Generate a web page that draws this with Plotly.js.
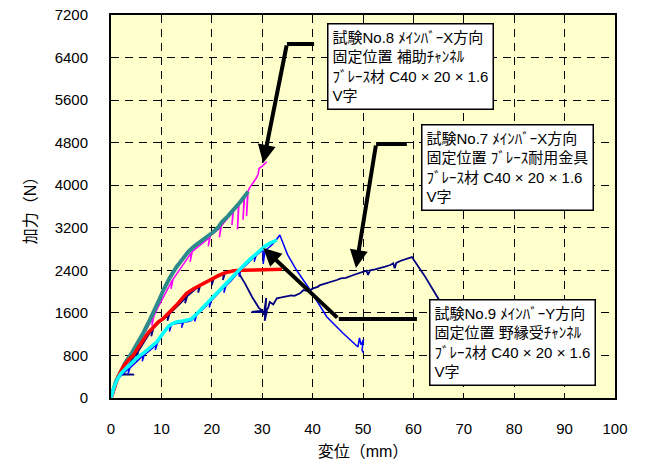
<!DOCTYPE html>
<html>
<head>
<meta charset="utf-8">
<script src="https://cdn.plot.ly/plotly-3.0.1.min.js"></script>
<style>html,body{margin:0;padding:0;background:#fff;}#chart{width:649px;height:470px;}</style>
</head>
<body>
<div id="chart"></div>
<script>
// ---- Data (displacement mm, load N) ----
// No.8 raw (magenta)
const x8raw = [0, 0.4, 1.0, 1.6, 2.4, 3.4, 4.6, 5.0, 4.7, 5.1, 5.9, 7.0, 8.0, 8.4, 8.1, 8.5, 9.4, 10.6, 11.8, 12.2, 11.9, 12.3, 13.4, 14.6, 15.6, 16.0, 15.7, 16.1, 17.0, 18.2, 19.2, 19.6, 19.3, 19.7, 20.6, 21.4, 21.8, 21.5, 21.9, 22.6, 23.6, 24.2, 24.0, 24.3, 24.8, 25.3, 25.1, 25.4, 25.9, 26.4, 26.2, 26.5, 26.9, 27.1, 26.9, 27.2, 27.5, 28.2, 28.8, 29.2, 29.4, 30.0, 30.6, 30.9];
const y8raw = [0, 160, 310, 430, 600, 760, 920, 990, 860, 1000, 1090, 1280, 1450, 1530, 1360, 1540, 1720, 1930, 2140, 2220, 2050, 2230, 2380, 2550, 2680, 2740, 2560, 2750, 2820, 2910, 2990, 3040, 2850, 3050, 3120, 3180, 3230, 3020, 3240, 3320, 3430, 3520, 3250, 3530, 3600, 3660, 3170, 3670, 3720, 3780, 3350, 3790, 3840, 3880, 3420, 3890, 3950, 4036, 4130, 4211, 4318, 4360, 4412, 4440];
// No.8 smoothed (teal)
const x8s = [0, 0.5, 1.0, 1.8, 2.8, 4.2, 5.4, 6.4, 7.4, 8.4, 9.4, 10.4, 11.6, 13.0, 14.2, 15.3, 16.5, 17.7, 19.0, 20.3, 21.2, 22.0, 23.2, 24.3, 25.6, 27.2];
const y8s = [0, 180, 320, 460, 660, 860, 1040, 1222, 1410, 1598, 1810, 2030, 2250, 2463, 2620, 2745, 2850, 2933, 3030, 3121, 3200, 3309, 3420, 3534, 3680, 3880];
// No.7 raw (navy)
const x7raw = [0, 0.8, 1.5, 1.9, 4.6, 2.3, 3.0, 4.0, 4.9, 5.2, 5.0, 5.4, 6.4, 7.4, 8.2, 8.0, 8.4, 9.4, 10.4, 11.4, 11.2, 11.6, 13.0, 14.0, 14.9, 14.7, 15.1, 16.3, 17.5, 17.3, 17.7, 19.0, 20.2, 20.0, 20.4, 21.4, 22.4, 22.2, 22.6, 23.6, 24.5, 25.4, 26.6, 28.0, 29.3, 30.0, 27.9, 30.9, 30.5, 30.8, 30.3, 31.2, 31.5, 32.2, 32.9, 33.8, 34.9, 35.8, 36.4, 37.5, 38.2, 39.2, 40.1, 41.0, 41.5, 42.5, 43.4, 44.8, 45.6, 46.6, 48.1, 49.0, 49.8, 50.7, 51.0, 51.4, 52.4, 53.4, 54.4, 55.4, 56.0, 56.3, 56.6, 57.5, 58.6, 59.7, 62.2, 64.9, 68.0];
const y7raw = [0, 230, 400, 445, 440, 450, 560, 700, 820, 860, 700, 880, 1030, 1180, 1300, 1160, 1310, 1410, 1480, 1570, 1450, 1580, 1700, 1800, 1900, 1780, 1910, 2010, 2110, 1980, 2120, 2190, 2240, 2120, 2250, 2290, 2330, 2220, 2340, 2380, 2400, 2340, 2150, 1900, 1700, 1640, 1617, 1617, 1450, 1880, 1560, 1700, 1805, 1760, 1874, 1890, 1905, 1930, 1920, 1968, 2030, 2010, 2060, 2090, 2124, 2150, 2180, 2218, 2250, 2260, 2312, 2340, 2360, 2393, 2312, 2400, 2420, 2438, 2470, 2500, 2530, 2438, 2540, 2580, 2610, 2650, 2300, 1874, 1300];
// No.7 smoothed (red)
const x7s = [0, 0.8, 1.5, 2.5, 3.5, 4.4, 5.4, 6.4, 7.4, 8.4, 9.4, 10.4, 11.6, 13.0, 14.0, 15.0, 16.3, 17.7, 19.0, 20.3, 21.3, 22.3, 23.3, 24.3, 26.2, 28.0, 30.0, 32.0, 33.9];
const y7s = [0, 250, 420, 600, 720, 800, 960, 1090, 1230, 1341, 1430, 1498, 1610, 1748, 1860, 1968, 2050, 2124, 2190, 2250, 2300, 2344, 2375, 2393, 2400, 2405, 2410, 2415, 2420];
// No.9 raw (blue)
const x9raw = [0, 0.6, 1.2, 1.8, 2.8, 3.6, 3.4, 3.8, 4.6, 5.6, 6.4, 6.2, 6.6, 7.4, 8.4, 9.0, 8.8, 9.2, 10.0, 11.0, 11.8, 11.6, 12.0, 13.0, 14.2, 14.0, 14.4, 15.4, 16.0, 16.8, 16.6, 17.0, 17.9, 18.9, 19.7, 19.5, 19.9, 20.8, 21.8, 22.6, 22.4, 22.8, 23.8, 24.8, 25.6, 25.4, 25.8, 26.8, 27.8, 28.6, 28.4, 28.8, 29.7, 30.2, 30.2, 30.6, 31.2, 31.9, 32.7, 33.5, 35.0, 36.8, 39.5, 42.8, 46.0, 49.0, 49.3, 49.6, 50.1, 49.8, 50.1];
const y9raw = [0, 190, 330, 400, 490, 560, 460, 570, 640, 740, 800, 690, 810, 870, 950, 1020, 900, 1030, 1160, 1280, 1370, 1250, 1380, 1400, 1420, 1320, 1430, 1440, 1460, 1540, 1440, 1560, 1640, 1730, 1820, 1700, 1830, 1920, 2010, 2100, 1980, 2110, 2200, 2310, 2400, 2280, 2410, 2500, 2590, 2670, 2560, 2680, 2750, 2760, 2520, 2780, 2820, 2876, 2960, 3064, 2700, 2406, 2030, 1528, 1222, 960, 1128, 1000, 1100, 900, 846];
// No.9 smoothed (cyan)
const x9s = [0, 0.6, 1.2, 1.8, 2.6, 3.4, 4.4, 5.4, 6.4, 7.2, 8.2, 9.0, 9.8, 10.6, 11.4, 12.2, 13.0, 14.3, 15.4, 15.9, 16.9, 17.8, 18.8, 19.7, 20.7, 21.6, 22.6, 23.6, 24.6, 25.6, 26.6, 27.6, 28.6, 29.6, 30.5, 31.5, 32.9];
const y9s = [0, 200, 340, 440, 520, 600, 700, 780, 840, 900, 970, 1045, 1150, 1250, 1350, 1400, 1430, 1446, 1462, 1480, 1570, 1660, 1755, 1845, 1940, 2030, 2130, 2230, 2330, 2430, 2520, 2610, 2700, 2780, 2850, 2910, 2970];

// ---- Axis ticks ----
const xTicks = [0, 10, 20, 30, 40, 50, 60, 70, 80, 90, 100];
const yTicks = [0, 800, 1600, 2400, 3200, 4000, 4800, 5600, 6400, 7200];

// ---- Annotation texts ----
const note8 = "試験No.8 ﾒｲﾝﾊﾞｰX方向<br>固定位置 補助ﾁｬﾝﾈﾙ<br>ﾌﾞﾚｰｽ材 C40 × 20 × 1.6<br>V字";
const note7 = "試験No.7 ﾒｲﾝﾊﾞｰX方向<br>固定位置 ﾌﾞﾚｰｽ耐用金具<br>ﾌﾞﾚｰｽ材 C40 × 20 × 1.6<br>V字";
const note9 = "試験No.9 ﾒｲﾝﾊﾞｰY方向<br>固定位置 野縁受ﾁｬﾝﾈﾙ<br>ﾌﾞﾚｰｽ材 C40 × 20 × 1.6<br>V字";

const FONT = "Liberation Sans, Arial, Noto Sans CJK JP, sans-serif";
const JFONT = "Liberation Sans, Noto Sans CJK JP, sans-serif";

const traces = [
  {x: x8raw, y: y8raw, mode: 'lines', line: {color: '#FF00FF', width: 1.6}, hoverinfo: 'skip'},
  {x: x7raw, y: y7raw, mode: 'lines', line: {color: '#000080', width: 1.8}, hoverinfo: 'skip'},
  {x: x9raw, y: y9raw, mode: 'lines', line: {color: '#0000FF', width: 1.5}, hoverinfo: 'skip'},
  {x: x8s, y: y8s, mode: 'lines', line: {color: '#2E8B8B', width: 4}, hoverinfo: 'skip'},
  {x: x7s, y: y7s, mode: 'lines', line: {color: '#FF0000', width: 3.5}, hoverinfo: 'skip'},
  {x: x9s, y: y9s, mode: 'lines', line: {color: '#00FFFF', width: 3.5}, hoverinfo: 'skip'}
];

function box(x, y, text) {
  return {x: x, y: y, xref: 'x', yref: 'y', xanchor: 'left', yanchor: 'top', text: text,
    showarrow: false, align: 'left', bgcolor: '#FFFFFF', bordercolor: '#000000', borderwidth: 1.5,
    borderpad: 4, font: {family: JFONT, size: 15, color: '#000'}};
}
function arrow(xt, yt, xs, ys) {
  return {x: xt, y: yt, ax: xs, ay: ys, xref: 'x', yref: 'y', axref: 'x', ayref: 'y', text: '',
    showarrow: true, arrowhead: 2, arrowsize: 0.9, arrowwidth: 4, arrowcolor: '#000', standoff: 0, startstandoff: 0};
}

const layout = {
  width: 649, height: 470,
  margin: {l: 111, r: 34, t: 15, b: 72},
  paper_bgcolor: '#FFFFFF', plot_bgcolor: '#FFFFCC',
  showlegend: false,
  font: {family: FONT, size: 15, color: '#000'},
  xaxis: {range: [0, 100], tickvals: xTicks, ticktext: xTicks.map(String), showgrid: true,
    gridcolor: '#000', griddash: '8px,6px', gridwidth: 1, zeroline: false,
    showline: true, linecolor: '#000', linewidth: 2, mirror: true,
    ticks: 'inside', ticklen: 4, tickcolor: '#000', ticklabelstandoff: 16,
    tickfont: {family: FONT, size: 15},
    title: {text: '変位（mm）', font: {family: JFONT, size: 16}, standoff: 10}},
  yaxis: {range: [0, 7200], tickvals: yTicks, ticktext: yTicks.map(String), showgrid: true,
    gridcolor: '#000', griddash: '8px,6px', gridwidth: 1, zeroline: false,
    showline: true, linecolor: '#000', linewidth: 2, mirror: true,
    ticks: 'inside', ticklen: 4, tickcolor: '#000', ticklabelstandoff: 18,
    tickfont: {family: FONT, size: 15},
    title: {text: '加力（N）', font: {family: JFONT, size: 16}, standoff: 14}},
  shapes: [
    {type: 'line', xref: 'x', yref: 'y', x0: 34.9, y0: 6655, x1: 40.3, y1: 6655, line: {color: '#000', width: 4}},
    {type: 'line', xref: 'x', yref: 'y', x0: 52.6, y0: 4775, x1: 58.7, y1: 4775, line: {color: '#000', width: 4}},
    {type: 'line', xref: 'x', yref: 'y', x0: 45.2, y0: 1485, x1: 60.7, y1: 1485, line: {color: '#000', width: 4}}
  ],
  annotations: [
    arrow(30.2, 4418, 34.9, 6655),
    arrow(48.6, 2444, 52.6, 4775),
    arrow(30.2, 2820, 45.2, 1485),
    box(42.9, 7050, note8),
    box(61.5, 5151, note7),
    box(63.1, 1861, note9)
  ]
};

Plotly.newPlot('chart', traces, layout, {displayModeBar: false, staticPlot: true});
</script>
</body>
</html>
